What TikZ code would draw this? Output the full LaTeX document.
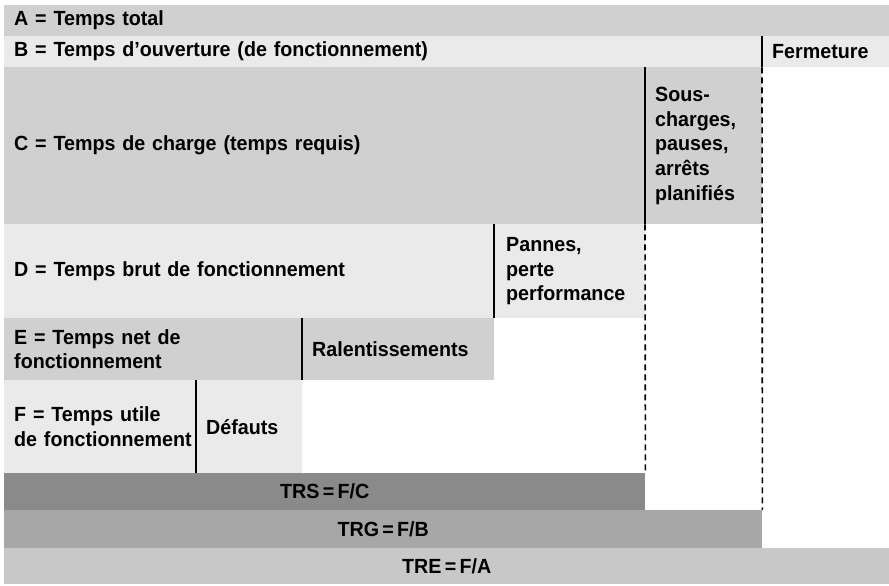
\documentclass[tikz,border=0pt]{standalone}
\usepackage{fontspec}
\setmainfont{Liberation Sans}[WordSpace=0.6, FakeStretch=0.96]
\begin{document}
\begin{tikzpicture}[x=1pt,y=-1pt,
  box/.style={anchor=north west, inner xsep=10pt, inner ysep=0pt, align=left,
    font=\bfseries\fontsize{20.5}{24.7}\selectfont, text=black},
  dark/.style={box, fill=shadedark},
  light/.style={box, fill=shadelight},
  ratio/.style={anchor=north west, inner sep=0pt, align=center,
    font=\bfseries\fontsize{20.5}{24.7}\selectfont, text=black},
  divider/.style={line width=1.6pt, black},
  cutline/.style={divider, dash pattern=on 6pt off 4pt}
]
\definecolor{shadedark}{HTML}{D0D0D0}
\definecolor{shadelight}{HTML}{EAEAEA}
\definecolor{trs}{HTML}{8A8A8A}
\definecolor{trg}{HTML}{A7A7A7}
\definecolor{tre}{HTML}{C8C8C8}
\useasboundingbox (0,0) rectangle (889,586);

% time breakdown rows
\node[dark, text width=865pt, minimum height=31pt] (A) at (4,5) {A = Temps total};
\node[light, text width=738pt, minimum height=31pt] (B) at (4,36) {B = Temps d’ouverture (de fonctionnement)};
\node[light, text width=107pt, minimum height=31pt] (ferm) at (762,36) {Fermeture};
\node[dark, text width=621pt, minimum height=157pt] (C) at (4,67) {C = Temps de charge (temps requis)};
\node[dark, text width=97pt, minimum height=157pt] (sc) at (645,67) {Sous-\\charges,\\pauses,\\arrêts\\planifiés};
\node[light, text width=470pt, minimum height=94pt] (D) at (4,224) {D = Temps brut de fonctionnement};
\node[light, minimum height=94pt, inner xsep=12pt, text width=127pt] (pan) at (494,224) {Pannes,\\perte\\performance};
\node[dark, text width=278pt, minimum height=62pt] (E) at (4,318) {E = Temps net de\\fonctionnement};
\node[dark, text width=172pt, minimum height=62pt] (ral) at (302,318) {Ralentissements};
\node[light, text width=172pt, minimum height=93pt] (F) at (4,380) {F = Temps utile\\\mbox{de fonctionnement}};
\node[light, text width=86pt, minimum height=93pt] (def) at (196,380) {Défauts};

% ratio bands
\node[ratio, fill=trs, minimum width=641pt, minimum height=37pt] (trs) at (4,473) {TRS = F/C};
\node[ratio, fill=trg, minimum width=758pt, minimum height=38pt] (trg) at (4,510) {TRG = F/B};
\node[ratio, fill=tre, minimum width=885pt, minimum height=36pt] (tre) at (4,548) {TRE = F/A};

% separators between each time and its losses
\draw[divider] (ferm.north west) -- (ferm.south west);
\draw[cutline] (ferm.south west) -- (trg.north east);
\draw[divider] (sc.north west) -- (sc.south west);
\draw[cutline] (sc.south west) -- (trs.north east);
\draw[divider] (pan.north west) -- (pan.south west);
\draw[divider] (ral.north west) -- (ral.south west);
\draw[divider] (def.north west) -- (def.south west);
\end{tikzpicture}
\end{document}
